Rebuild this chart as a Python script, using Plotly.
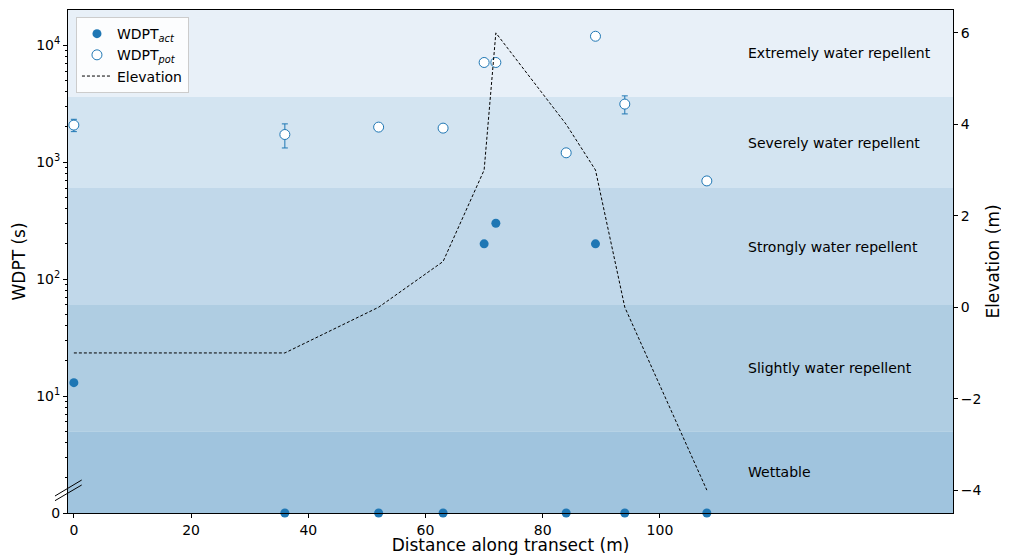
import math
import plotly.graph_objects as go

# ---------------- data ----------------
distance = [0, 36, 52, 63, 70, 72, 84, 89, 94, 108]
wdpt_act = [13, 0, 0, 0, 200, 300, 0, 200, 0, 0]
wdpt_pot = [2070, 1720, 1990, 1950, 7100, 7100, 1200, 11900, 3130, 690]
wdpt_pot_err = [250, 400, 100, 0, 0, 0, 0, 0, 550, 50]
elevation = [-1, -1, 0, 1, 3, 6, 4, 3, 0, -4]

band_names = ["Wettable", "Slightly water repellent", "Strongly water repellent",
              "Severely water repellent", "Extremely water repellent"]
band_edges = [1, 5, 60, 600, 3600, 19950]
band_colors = ["#a0c4de", "#afcde2", "#c1d8ea", "#d3e4f1", "#e8f0f8"]

x_ticks = [0, 20, 40, 60, 80, 100]
y_ticks = [1, 10, 100, 1000, 10000]
y_ticktext = ["0", "10<sup>1</sup>", "10<sup>2</sup>", "10<sup>3</sup>", "10<sup>4</sup>"]
y2_ticks = [-4, -2, 0, 2, 4, 6]
y2_ticktext = ["\u22124", "\u22122", "0", "2", "4", "6"]

BLUE = "#1f77b4"
FONT = "DejaVu Sans"

# zero values of WDPT_act sit on the "0" tick (the bottom of the broken axis)
act_plot = [v if v > 0 else 1 for v in wdpt_act]

fig = go.Figure()

fig.add_trace(go.Scatter(
    x=distance, y=act_plot, mode="markers", name="WDPT<sub><i>act</i></sub>",
    marker=dict(color=BLUE, size=9, line=dict(width=0)),
    cliponaxis=False,
))
fig.add_trace(go.Scatter(
    x=distance, y=wdpt_pot, mode="markers", name="WDPT<sub><i>pot</i></sub>",
    marker=dict(color="white", size=10, line=dict(color=BLUE, width=1)),
    error_y=dict(type="data", array=wdpt_pot_err, color=BLUE, thickness=1, width=3),
))
fig.add_trace(go.Scatter(
    x=distance, y=elevation, mode="lines", name="Elevation", yaxis="y2",
    line=dict(color="black", width=1, dash="3px,2px"),
))

shapes = []
annotations = []
for i, name in enumerate(band_names):
    lo, hi = band_edges[i], band_edges[i + 1]
    shapes.append(dict(type="rect", xref="paper", yref="y", x0=0, x1=1, y0=lo, y1=hi,
                       fillcolor=band_colors[i], line=dict(width=0), layer="below"))
    annotations.append(dict(
        x=114.6, y=(math.log10(lo) + math.log10(hi)) / 2, xref="x", yref="y",
        text=name, showarrow=False, xanchor="left", yanchor="middle",
        font=dict(family=FONT, size=14, color="black"),
    ))

# broken-axis marks
for y0, y1 in [(0.0338, 0.0656), (0.0245, 0.0557)]:
    shapes.append(dict(type="line", xref="paper", yref="paper", x0=-0.0147, x1=0.0155,
                       y0=y0, y1=y1, line=dict(color="black", width=1)))

minor_vals = [m * 10 ** d for d in range(0, 5) for m in range(2, 10) if m * 10 ** d < 19950]

# page body adds an 8px offset; the figure is sized to compensate
fig.update_layout(
    width=1001, height=547,
    margin=dict(l=60, r=56, t=2, b=42, autoexpand=False),
    paper_bgcolor="white", plot_bgcolor="white",
    font=dict(family=FONT, size=14, color="black"),
    shapes=shapes, annotations=annotations,
    showlegend=True,
    legend=dict(x=0.009, y=0.986, xanchor="left", yanchor="top",
                bgcolor="rgba(255,255,255,0.85)", bordercolor="#cccccc", borderwidth=1,
                font=dict(family=FONT, size=14), tracegroupgap=0, itemwidth=30),
    xaxis=dict(
        range=[-1, 150], tickvals=x_ticks, ticks="outside", ticklen=4, tickcolor="black",
        showline=True, linecolor="black", linewidth=1, mirror=True, showgrid=False,
        zeroline=False, tickfont=dict(size=14), automargin=False,
        title=dict(text="Distance along transect (m)", font=dict(size=17), standoff=5),
    ),
    yaxis=dict(
        type="log", range=[0, math.log10(19950)], tickvals=y_ticks, ticktext=y_ticktext,
        ticks="outside", ticklen=4, tickcolor="black", showline=True, linecolor="black",
        linewidth=1, showgrid=False, zeroline=False, tickfont=dict(size=14),
        automargin=False,
        minor=dict(tickvals=minor_vals, ticks="outside", ticklen=2, tickcolor="black",
                   showgrid=False),
        title=dict(text="WDPT (s)", font=dict(size=17), standoff=6),
    ),
    yaxis2=dict(
        overlaying="y", side="right", range=[-4.5, 6.5], tickvals=y2_ticks,
        ticktext=y2_ticktext, ticks="outside", ticklen=4, tickcolor="black",
        showline=True, linecolor="black", linewidth=1, showgrid=False, zeroline=False,
        tickfont=dict(size=14), automargin=False,
        title=dict(text="Elevation (m)", font=dict(size=17), standoff=6),
    ),
)

fig.write_html("out.html")
